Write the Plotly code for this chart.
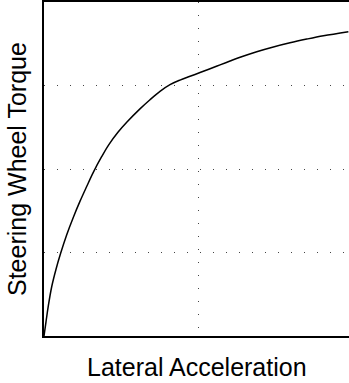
import plotly.graph_objects as go

# Steering wheel torque vs. lateral acceleration (normalised units)
lat_accel = [0.0, 0.013, 0.028, 0.05, 0.078, 0.108, 0.147, 0.19, 0.234, 0.277,
             0.32, 0.375, 0.42, 0.48, 0.537, 0.623, 0.688, 0.753, 0.818, 0.883,
             0.948, 1.013, 1.078, 1.143, 1.208, 1.273, 1.381, 1.489, 1.597, 1.706,
             1.814, 1.976]
sw_torque = [0.0, 0.17, 0.36, 0.59, 0.80, 0.99, 1.21, 1.42, 1.615, 1.79,
             1.96, 2.15, 2.29, 2.44, 2.56, 2.72, 2.83, 2.93, 3.01, 3.065,
             3.11, 3.155, 3.2, 3.247, 3.293, 3.338, 3.405, 3.462, 3.512, 3.556,
             3.596, 3.645]

x_grid = [1]
y_grid = [1, 2, 3]

font_family = "Liberation Sans, Arial, sans-serif"

fig = go.Figure()
fig.add_trace(go.Scatter(
    x=lat_accel, y=sw_torque, mode="lines",
    line=dict(color="black", width=1.5, shape="spline", smoothing=1.0),
    showlegend=False, hoverinfo="skip",
))

grid_dash = "1px,12px"
fig.update_xaxes(
    range=[0, 1.98], tickvals=x_grid, showticklabels=False, ticks="",
    showgrid=True, gridcolor="#444", gridwidth=1, griddash=grid_dash,
    zeroline=False, showline=True, linecolor="black", linewidth=2, mirror=True,
)
fig.update_yaxes(
    range=[0, 4], tickvals=y_grid, showticklabels=False, ticks="",
    showgrid=True, gridcolor="#444", gridwidth=1, griddash=grid_dash,
    zeroline=False, showline=True, linecolor="black", linewidth=2, mirror=False,
)

fig.add_annotation(
    text="Lateral Acceleration", xref="paper", yref="paper", x=0.5, y=0,
    xanchor="center", yanchor="top", yshift=-15, showarrow=False,
    font=dict(family=font_family, size=25, color="black"),
)
fig.add_annotation(
    text="Steering Wheel Torque", xref="paper", yref="paper", x=0, y=0.5,
    xanchor="center", yanchor="middle", xshift=-27, textangle=-90, showarrow=False,
    font=dict(family=font_family, size=25, color="black"),
)

fig.update_layout(
    width=349, height=383,
    margin=dict(l=44, r=0, t=2, b=47),
    plot_bgcolor="white", paper_bgcolor="white",
)

fig.write_html("out.html")
